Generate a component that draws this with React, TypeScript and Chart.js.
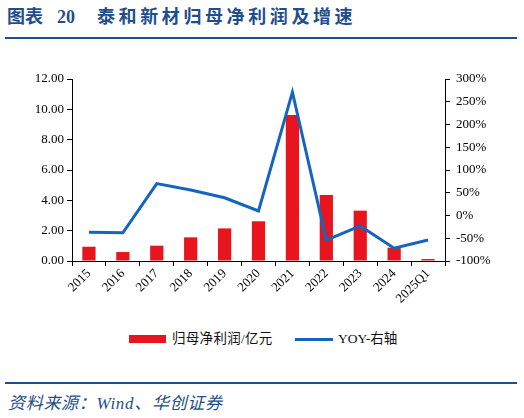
import React, { useEffect, useRef } from "react";
import { Chart, registerables } from "chart.js";

Chart.register(...registerables);

const categories = ["2015", "2016", "2017", "2018", "2019", "2020", "2021", "2022", "2023", "2024", "2025Q1"];
const netProfit = [0.94, 0.59, 1.01, 1.56, 2.15, 2.62, 9.62, 4.35, 3.32, 0.88, 0.13];
const yoy = [-37, -38, 70, 56, 39, 10, 271, -54, -23, -72, -54];
const leftTicks = [0, 2, 4, 6, 8, 10, 12];
const rightTicks = [-100, -50, 0, 50, 100, 150, 200, 250, 300];

const RED = "#E8141E";
const BLUE = "#1565C0";
const NAVY = "#1F4E8C";
const SERIF = "'Liberation Serif', 'Times New Roman', serif";
const CJK = "'Liberation Serif', 'Noto Sans CJK SC', serif";

export default function App() {
  const ref = useRef<HTMLCanvasElement | null>(null);

  useEffect(() => {
    if (!ref.current) return;
    const tickFont = { family: SERIF, size: 13 };
    const chart = new Chart(ref.current, {
      data: {
        labels: categories,
        datasets: [
          {
            type: "line",
            label: "YOY-右轴",
            data: yoy,
            yAxisID: "y1",
            borderColor: BLUE,
            backgroundColor: BLUE,
            borderWidth: 3,
            pointRadius: 0,
            tension: 0,
            order: 0,
          },
          {
            type: "bar",
            label: "归母净利润/亿元",
            data: netProfit,
            yAxisID: "y",
            backgroundColor: RED,
            barPercentage: 0.39,
            categoryPercentage: 1,
            order: 1,
          },
        ],
      },
      options: {
        responsive: false,
        animation: false,
        devicePixelRatio: 1,
        layout: { padding: { top: 19, left: 0, right: 0, bottom: 0 } },
        plugins: { legend: { display: false }, tooltip: { enabled: false } },
        scales: {
          x: {
            offset: true,
            grid: { offset: true, drawOnChartArea: false, drawTicks: true, tickLength: 5, color: "#000" },
            border: { color: "#000", width: 1 },
            ticks: { font: tickFont, color: "#000", minRotation: 45, maxRotation: 45, autoSkip: false, padding: 0 },
            afterFit: (s: any) => { s.height = 59; },
          },
          y: {
            position: "left",
            min: 0,
            max: 12,
            afterBuildTicks: (s: any) => { s.ticks = leftTicks.map((v) => ({ value: v })); },
            grid: { drawOnChartArea: false, drawTicks: true, tickLength: 5, color: "#000" },
            border: { color: "#000", width: 1 },
            ticks: { font: tickFont, color: "#000", padding: 3, callback: (v: any) => Number(v).toFixed(2) },
            afterFit: (s: any) => { s.width = 72; },
          },
          y1: {
            position: "right",
            min: -100,
            max: 300,
            afterBuildTicks: (s: any) => { s.ticks = rightTicks.map((v) => ({ value: v })); },
            grid: { drawOnChartArea: false, drawTicks: true, tickLength: 5, color: "#000" },
            border: { color: "#000", width: 1 },
            ticks: { font: tickFont, color: "#000", padding: 6, callback: (v: any) => v + "%" },
            afterFit: (s: any) => { s.width = 79; },
          },
        },
      },
    } as any);
    return () => chart.destroy();
  }, []);

  return (
    <div style={{ position: "absolute", left: 0, top: 0, width: 524, height: 418, background: "#fff", overflow: "hidden" }}>
      <div style={{ position: "absolute", left: 7, top: 7, height: 20, lineHeight: "20px", whiteSpace: "nowrap", color: NAVY, fontWeight: "bold", fontSize: 18, fontFamily: CJK }}>
        <span>图表</span>
        <span style={{ marginLeft: 14 }}>20</span>
        <span style={{ marginLeft: 22, letterSpacing: 3.6 }}>泰和新材归母净利润及增速</span>
      </div>
      <div style={{ position: "absolute", left: 5, top: 37, width: 512, height: 2, background: NAVY }} />
      <canvas ref={ref} width={524} height={260} style={{ position: "absolute", left: 0, top: 60, width: 524, height: 260 }} />
      <div style={{ position: "absolute", left: 129, top: 335, width: 37, height: 8, background: RED }} />
      <div style={{ position: "absolute", left: 172, top: 330, height: 18, lineHeight: "18px", fontSize: 13.5, letterSpacing: 0.3, fontFamily: CJK, color: "#111", whiteSpace: "nowrap" }}>归母净利润/亿元</div>
      <div style={{ position: "absolute", left: 295, top: 337.5, width: 38, height: 3, background: BLUE }} />
      <div style={{ position: "absolute", left: 338, top: 330, height: 18, lineHeight: "18px", fontSize: 13.5, fontFamily: CJK, color: "#111", whiteSpace: "nowrap" }}>YOY-右轴</div>
      <div style={{ position: "absolute", left: 5, top: 382, width: 512, height: 2, background: NAVY }} />
      <div style={{ position: "absolute", left: 8, top: 394, height: 20, lineHeight: "20px", fontSize: 17, letterSpacing: 0.7, fontStyle: "italic", fontFamily: CJK, color: NAVY, whiteSpace: "nowrap" }}>资料来源：Wind、华创证券</div>
    </div>
  );
}
